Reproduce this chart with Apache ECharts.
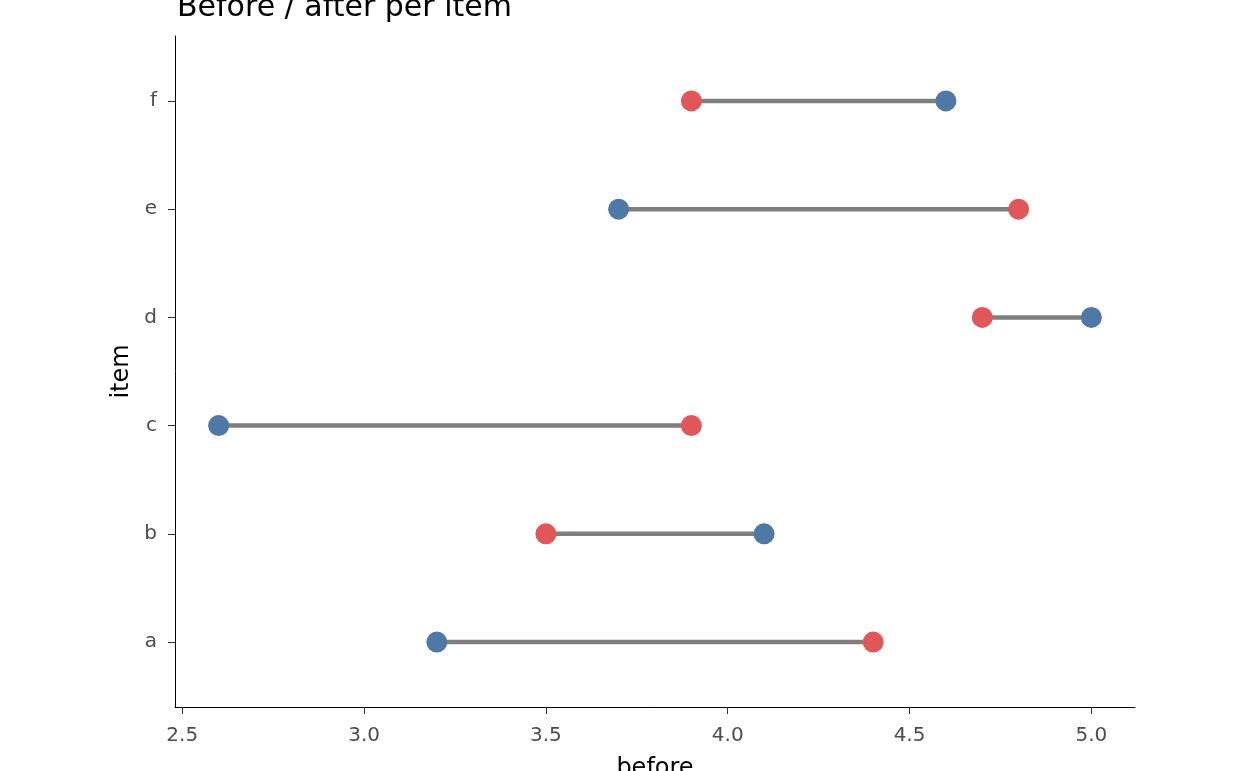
<!DOCTYPE html>
<html lang="en">
<head>
    <meta charset="UTF-8">
    <title>Before / after per item</title>
    <script type="text/javascript" src="https://cdn.jsdelivr.net/npm/echarts@6/dist/echarts.min.js"></script>
    <style>
        html, body { margin: 0; padding: 0; background: #fff; }
        #main { width: 1248px; height: 771px; }
    </style>
</head>
<body>
<div id="main"></div>
<script type="text/javascript">
    // data
    var items = ['a', 'b', 'c', 'd', 'e', 'f'];
    var before = [3.2, 4.1, 2.6, 5.0, 3.7, 4.6];
    var after = [4.4, 3.5, 3.9, 4.7, 4.8, 3.9];
    var xTicks = [2.5, 3.0, 3.5, 4.0, 4.5, 5.0];

    var axisFont = 'DejaVu Sans';

    // one grey segment per item, y = position of the item (1..n)
    var segments = [];
    for (var i = 0; i < items.length; i++) {
        segments.push({
            type: 'line',
            data: [[before[i], i + 1], [after[i], i + 1]],
            symbol: 'none',
            silent: true,
            z: 1,
            lineStyle: {color: '#7f7f7f', width: 4.5}
        });
    }

    var beforePts = [];
    var afterPts = [];
    for (var j = 0; j < items.length; j++) {
        beforePts.push([before[j], j + 1]);
        afterPts.push([after[j], j + 1]);
    }

    var myChart = echarts.init(document.getElementById('main'));
    var option = {
        animation: false,
        backgroundColor: '#ffffff',
        title: {
            text: 'Before / after per item',
            left: 172,
            top: -12,
            textStyle: {fontFamily: axisFont, fontSize: 30, fontWeight: 'normal', color: '#000'}
        },
        grid: {left: 175, right: 113, top: 36, bottom: 64, outerBoundsMode: 'none', containLabel: false},
        xAxis: {
            type: 'value',
            min: 2.48,
            max: 5.12,
            name: 'before',
            nameLocation: 'middle',
            nameGap: 50,
            nameTextStyle: {fontFamily: axisFont, fontSize: 24, color: '#000'},
            splitLine: {show: false},
            axisLine: {show: true, lineStyle: {color: '#000', width: 1}},
            axisTick: {show: true, length: 7, customValues: xTicks, lineStyle: {color: '#333'}},
            axisLabel: {
                customValues: xTicks,
                margin: 19,
                fontFamily: axisFont,
                fontSize: 20,
                color: '#4d4d4d',
                formatter: function (v) { return v.toFixed(1); }
            }
        },
        yAxis: {
            type: 'value',
            min: 0.4,
            max: 6.6,
            name: 'item',
            nameLocation: 'middle',
            nameRotate: 90,
            nameGap: 38,
            nameTextStyle: {fontFamily: axisFont, fontSize: 24, color: '#000'},
            splitLine: {show: false},
            axisLine: {show: true, lineStyle: {color: '#000', width: 1}},
            axisTick: {show: true, length: 7, customValues: [1, 2, 3, 4, 5, 6], lineStyle: {color: '#333'}},
            axisLabel: {
                customValues: [1, 2, 3, 4, 5, 6],
                margin: 18,
                fontFamily: axisFont,
                fontSize: 20,
                color: '#4d4d4d',
                formatter: function (v) { return items[Math.round(v) - 1]; }
            }
        },
        series: segments.concat([
            {
                name: 'before',
                type: 'scatter',
                data: beforePts,
                symbolSize: 21,
                z: 3,
                itemStyle: {color: '#4E79A7', opacity: 1}
            },
            {
                name: 'after',
                type: 'scatter',
                data: afterPts,
                symbolSize: 21,
                z: 3,
                itemStyle: {color: '#E15759', opacity: 1}
            }
        ])
    };
    myChart.setOption(option);
</script>
</body>
</html>
